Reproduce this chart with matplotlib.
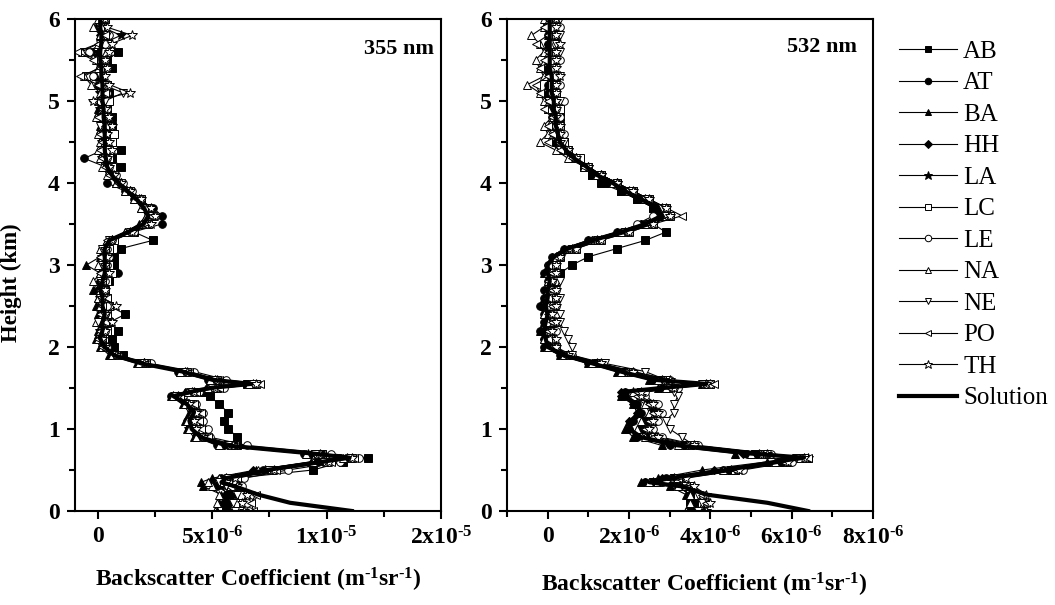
import numpy as np
import matplotlib
matplotlib.use("Agg")
from matplotlib import pyplot as plt
from matplotlib.ticker import MultipleLocator

plt.rcParams['font.family'] = ['Liberation Serif', 'DejaVu Serif']
plt.rcParams['mathtext.fontset'] = 'custom'
plt.rcParams['mathtext.rm'] = 'Liberation Serif:bold'
plt.rcParams['mathtext.bf'] = 'Liberation Serif:bold'
plt.rcParams['mathtext.default'] = 'bf'

# heights (km), shared by both wavelengths
h_km = [0.0, 0.1, 0.2, 0.3, 0.35, 0.4, 0.5, 0.6, 0.65, 0.7,
        0.8, 0.9, 1.0, 1.1, 1.2, 1.3, 1.4, 1.45, 1.5, 1.55,
        1.6, 1.7, 1.8, 1.9, 2.0, 2.1, 2.2, 2.3, 2.4, 2.5,
        2.6, 2.7, 2.8, 2.9, 3.0, 3.1, 3.2, 3.3, 3.4, 3.5,
        3.6, 3.7, 3.8, 3.9, 4.0, 4.1, 4.2, 4.3, 4.4, 4.5,
        4.6, 4.7, 4.8, 4.9, 5.0, 5.1, 5.2, 5.3, 5.4, 5.5,
        5.6, 5.7, 5.8, 5.9, 6.0]

# backscatter in units of 1e-6 m-1 sr-1
# ---------------- 355 nm ----------------
sol_355 = [11.1, 8.4, 7.0, 6.0, 5.4, 5.6, 7.4, 9.8, 11.0, 9.4,
           5.6, 4.5, 4.1, 4.0, 4.2, 3.9, 3.3, 4.0, 4.9, 6.7,
           5.0, 3.7, 1.9, 0.7, 0.3, 0.1, 0.2, 0.2, 0.3, 0.2,
           0.2, 0.1, 0.2, 0.3, 0.3, 0.3, 0.3, 0.5, 1.3, 2.0,
           2.2, 2.0, 1.7, 1.3, 0.9, 0.6, 0.4, 0.35, 0.3, 0.3,
           0.3, 0.3, 0.25, 0.25, 0.2, 0.2, 0.2, 0.15, 0.15, 0.1,
           0.1, 0.15, 0.15, 0.1, 0.1]
ab_355 = [5.6, 5.6, 5.7, 6.1, 5.6, 6.0, 9.4, 10.7, 11.8, 9.8,
          6.1, 6.1, 5.7, 5.5, 5.7, 5.3, 4.9, 4.6, 5.2, 6.5,
          4.9, 3.6, 1.8, 1.1, 0.7, 0.6, 0.9, 0.5, 1.2, 0.5,
          0.4, 0.3, 0.5, 0.6, 0.7, 0.7, 1.0, 2.4, 1.6, 2.1,
          2.3, 2.1, 1.8, 1.3, 0.9, 0.7, 1.0, 0.6, 1.0, 0.6,
          0.5, 0.6, 0.6, 0.4, 0.4, 0.5, 0.4, 0.2, 0.6, 0.4,
          0.9, 0.4, 0.2, 0.1, 0.3]
at_355 = [5.6, 5.5, 5.6, 5.7, 5.0, 5.4, 7.2, 9.6, 10.6, 9.0,
          5.2, 4.3, 4.0, 3.9, 4.1, 3.8, 3.2, 3.9, 4.8, 6.5,
          4.8, 3.5, 1.8, 0.6, 0.2, 0.0, 0.2, 0.1, 0.2, 0.1,
          0.1, 0.0, 0.2, 0.9, 0.4, 0.3, 0.2, 0.5, 1.5, 2.8,
          2.8, 2.4, 1.6, 1.2, 0.4, 0.5, 0.3, -0.6, 0.2, 0.3,
          0.1, 0.2, 0.0, 0.3, 0.1, 0.2, 0.0, -0.2, 0.1, 0.0,
          -0.3, 0.1, 0.2, 0.0, 0.1]
ba_355 = [5.2, 5.3, 5.4, 4.6, 4.5, 5.0, 6.9, 9.3, 10.8, 9.2,
          5.4, 4.2, 3.9, 3.8, 4.0, 3.7, 3.2, 3.8, 4.8, 6.6,
          4.9, 3.6, 1.7, 0.5, 0.1, -0.1, 0.0, 0.1, 0.0, -0.1,
          0.0, -0.2, 0.0, 0.1, -0.5, 0.1, 0.2, 0.4, 1.2, 1.8,
          2.1, 1.9, 1.6, 1.2, 0.8, 0.5, 0.3, 0.3, 0.1, 0.2,
          0.3, 0.1, 0.2, 0.0, 0.1, 0.2, 0.1, -0.1, 0.2, 0.1,
          0.0, 0.2, 0.1, 0.0, 0.2]
hh_355 = [5.7, 5.5, 5.8, 5.2, 5.0, 5.8, 6.8, 9.5, 10.9, 9.3,
          5.5, 4.4, 4.1, 4.0, 4.2, 3.9, 3.4, 4.0, 4.9, 6.7,
          5.0, 3.7, 1.9, 0.7, 0.3, 0.1, 0.2, 0.2, 0.3, 0.2,
          0.2, 0.1, 0.2, 0.3, 0.3, 0.3, 0.3, 0.5, 1.3, 2.0,
          2.2, 2.0, 1.7, 1.3, 0.9, 0.6, 0.4, 0.3, 0.3, 0.3,
          0.3, 0.3, 0.2, 0.2, 0.2, 0.2, 0.2, 0.1, 0.1, 0.1,
          0.1, 0.1, 0.1, 0.1, 0.1]
la_355 = [5.9, 5.8, 6.0, 5.4, 5.2, 5.6, 7.3, 9.7, 10.9, 9.2,
          5.5, 4.4, 4.0, 4.1, 4.1, 3.8, 3.3, 4.1, 5.0, 6.8,
          5.1, 3.8, 2.0, 0.8, 0.4, 0.2, 0.1, 0.3, 0.2, 0.3,
          0.1, 0.2, 0.3, 0.2, 0.4, 0.2, 0.4, 0.6, 1.4, 2.1,
          2.3, 2.1, 1.8, 1.4, 1.0, 0.7, 0.5, 0.2, 0.4, 0.2,
          0.4, 0.2, 0.3, 0.1, 0.3, 0.1, 0.3, 0.0, 0.2, 0.2,
          0.0, 0.2, 1.0, 0.2, 0.1]
lc_355 = [6.2, 6.0, 6.3, 5.8, 5.5, 5.9, 7.6, 10.0, 11.1, 9.6,
          5.8, 4.7, 4.4, 4.3, 4.4, 4.1, 3.5, 4.2, 5.1, 6.9,
          5.2, 3.9, 2.1, 0.8, 0.3, 0.2, 0.4, 0.3, 0.4, 0.5,
          0.3, 0.2, 0.4, 0.6, 0.5, 0.4, 0.5, 0.7, 1.5, 2.2,
          2.4, 2.2, 1.9, 1.4, 1.0, 0.7, 0.6, 0.5, 0.5, 0.6,
          0.7, 0.5, 0.4, 0.3, 0.5, 0.3, 0.4, -0.5, 0.3, 0.3,
          -0.6, 0.4, 0.3, 0.2, 0.3]
le_355 = [6.6, 6.5, 6.8, 6.3, 5.9, 6.4, 8.3, 10.6, 11.4, 10.2,
          6.5, 4.9, 4.8, 4.6, 4.6, 4.3, 3.7, 4.4, 5.5, 7.0,
          5.6, 4.2, 2.3, 0.9, 0.4, 0.2, 0.3, 0.4, 0.3, 0.4,
          0.3, 0.3, 0.3, 0.4, 0.4, 0.5, 0.4, 0.6, 1.6, 2.2,
          2.5, 2.2, 1.9, 1.5, 1.1, 0.8, 0.5, 0.4, 0.2, 0.4,
          0.2, 0.5, 0.3, 0.4, 0.1, 0.4, 0.2, -0.2, 0.4, 0.3,
          -0.4, 0.3, 0.5, 0.2, 0.3]
na_355 = [5.1, 5.2, 5.3, 5.0, 4.8, 5.3, 7.0, 9.4, 10.7, 9.1,
          5.3, 4.3, 4.0, 3.9, 4.1, 3.8, 3.3, 3.9, 4.8, 6.6,
          4.9, 3.6, 1.8, 0.6, 0.2, 0.0, 0.1, -0.1, 0.2, 0.1,
          0.0, 0.1, -0.2, 0.1, 0.0, 0.2, 0.1, 0.4, 1.2, 1.9,
          2.1, 1.9, 1.6, 1.2, 0.8, 0.4, 0.2, 0.1, 0.0, 0.1,
          0.0, 0.2, -0.1, 0.2, 0.0, 0.1, -0.3, -0.6, 0.0, -0.1,
          -0.7, 0.0, 0.1, -0.2, 0.0]
ne_355 = [6.0, 5.9, 6.1, 5.6, 5.3, 5.7, 7.5, 9.9, 11.0, 9.5,
          5.7, 4.6, 4.2, 4.1, 4.3, 4.0, 3.4, 4.1, 5.0, 6.8,
          5.1, 3.8, 2.0, 0.7, 0.3, 0.1, 0.2, 0.0, 0.4, 0.2,
          0.1, 0.2, 0.1, 0.3, 0.2, 0.3, 0.2, 0.5, 1.4, 2.1,
          2.3, 2.1, 1.7, 1.3, 0.9, 0.6, 0.4, 0.3, 0.2, 0.4,
          0.3, 0.1, 0.4, 0.2, 0.3, 1.1, 0.2, 0.1, 0.3, 0.0,
          0.2, 0.1, 0.4, 0.1, 0.2]
po_355 = [6.8, 6.7, 6.9, 6.0, 5.7, 6.1, 7.8, 10.2, 11.2, 9.8,
          6.0, 4.8, 4.5, 4.4, 4.5, 4.2, 3.6, 4.3, 5.3, 7.1,
          5.3, 4.0, 2.1, 0.8, 0.2, 0.0, 0.1, 0.3, 0.1, 0.2,
          0.4, 0.1, 0.2, 0.1, 0.3, 0.1, 0.3, 0.4, 1.3, 2.0,
          2.3, 2.0, 1.7, 1.3, 0.9, 0.5, 0.3, 0.2, 0.1, 0.2,
          0.1, 0.3, 0.0, 0.2, -0.2, 0.3, 0.0, -0.8, 0.1, -0.2,
          -0.9, 0.0, 0.3, 0.1, 0.2]
th_355 = [6.4, 6.3, 6.5, 6.1, 5.6, 6.0, 7.7, 10.1, 11.1, 9.7,
          5.9, 4.6, 4.3, 4.2, 4.3, 4.0, 3.5, 4.2, 5.1, 6.9,
          5.2, 3.9, 2.0, 0.8, 0.3, 0.2, 0.3, 0.6, 0.3, 0.8,
          0.2, 0.3, 0.2, 0.5, 0.3, 0.4, 0.3, 0.6, 1.5, 2.3,
          2.5, 2.3, 1.9, 1.4, 1.0, 0.7, 0.5, 0.4, 0.6, 0.5,
          0.4, 0.6, 0.5, 0.3, -0.2, 1.4, 0.5, 0.3, 0.4, 0.3,
          0.5, 0.6, 1.5, 0.4, 0.3]

# ---------------- 532 nm ----------------
sol_532 = [6.4, 5.4, 3.9, 3.3, 2.5, 3.0, 4.4, 5.6, 6.3, 5.0,
           3.2, 2.3, 2.0, 2.1, 2.3, 2.2, 1.9, 1.8, 2.8, 3.9,
           2.6, 1.8, 1.1, 0.4, 0.0, -0.05, -0.1, -0.05, 0.0, -0.05,
           0.0, 0.0, 0.05, 0.0, 0.0, 0.15, 0.5, 1.1, 1.8, 2.4,
           2.8, 2.7, 2.3, 1.9, 1.6, 1.2, 0.95, 0.65, 0.45, 0.3,
           0.25, 0.2, 0.2, 0.15, 0.15, 0.1, 0.1, 0.1, 0.05, 0.05,
           0.05, 0.05, 0.05, 0.05, 0.05]
ab_532 = [3.6, 3.5, 3.6, 3.4, 2.6, 3.1, 4.5, 5.7, 6.3, 5.1,
          3.4, 2.5, 2.3, 2.4, 2.6, 2.5, 2.2, 2.3, 3.0, 3.9,
          2.7, 1.9, 1.2, 0.5, 0.1, 0.1, 0.0, 0.1, 0.1, 0.0,
          0.1, 0.1, 0.1, 0.3, 0.6, 1.0, 1.7, 2.4, 2.9, 2.6,
          2.7, 2.6, 2.2, 1.8, 1.3, 1.1, 0.9, 0.7, 0.5, 0.4,
          0.3, 0.3, 0.3, 0.2, 0.2, 0.2, 0.1, 0.1, 0.1, 0.1,
          0.1, 0.1, 0.1, 0.1, 0.1]
at_532 = [3.5, 3.6, 3.5, 3.2, 2.4, 2.9, 4.3, 5.5, 6.2, 4.9,
          3.0, 2.2, 2.0, 2.1, 2.3, 2.2, 1.9, 1.9, 2.8, 3.8,
          2.6, 1.8, 1.0, 0.3, -0.1, -0.1, -0.2, -0.1, -0.1, -0.2,
          -0.1, -0.1, 0.0, -0.1, 0.0, 0.1, 0.4, 1.0, 1.7, 2.3,
          2.7, 2.6, 2.2, 1.8, 1.5, 1.1, 0.9, 0.6, 0.4, 0.2,
          0.2, 0.1, 0.1, 0.1, 0.1, 0.0, 0.0, 0.0, 0.0, 0.0,
          0.0, 0.0, 0.0, 0.0, 0.0]
ba_532 = [3.4, 3.5, 3.4, 3.0, 2.3, 2.7, 3.8, 5.4, 6.4, 4.6,
          2.8, 2.1, 1.9, 2.0, 2.2, 2.1, 1.8, 1.9, 2.7, 3.8,
          2.5, 1.7, 1.0, 0.3, -0.1, -0.1, -0.2, -0.1, -0.1, -0.1,
          -0.1, 0.0, 0.0, -0.1, 0.0, 0.1, 0.4, 1.0, 1.7, 2.3,
          2.7, 2.6, 2.2, 1.8, 1.5, 1.1, 0.9, 0.6, 0.4, 0.2,
          0.2, 0.1, 0.1, 0.0, 0.1, 0.0, 0.0, 0.0, 0.0, 0.0,
          0.0, 0.0, 0.0, 0.0, 0.0]
hh_532 = [3.5, 3.6, 3.5, 3.2, 2.4, 2.8, 4.1, 5.5, 6.3, 4.8,
          3.0, 2.2, 2.0, 2.0, 2.2, 2.1, 1.8, 1.8, 2.8, 3.9,
          2.6, 1.8, 1.1, 0.4, 0.0, -0.1, -0.1, 0.0, 0.0, -0.1,
          0.0, 0.0, 0.1, 0.0, 0.0, 0.2, 0.5, 1.1, 1.8, 2.4,
          2.8, 2.7, 2.3, 1.9, 1.6, 1.2, 0.9, 0.6, 0.4, 0.3,
          0.2, 0.2, 0.2, 0.1, 0.1, 0.1, 0.1, 0.1, 0.0, 0.0,
          0.1, 0.0, 0.1, 0.0, 0.1]
la_532 = [3.6, 3.7, 3.6, 3.3, 2.6, 3.1, 4.5, 5.8, 6.4, 5.2,
          3.3, 2.5, 2.4, 2.5, 2.6, 2.5, 2.2, 2.1, 3.0, 4.0,
          2.8, 1.9, 1.2, 0.5, 0.1, 0.0, 0.0, 0.1, 0.1, 0.0,
          0.1, 0.1, 0.1, 0.1, 0.1, 0.2, 0.6, 1.2, 1.9, 2.5,
          2.9, 2.8, 2.4, 2.0, 1.7, 1.3, 1.0, 0.7, 0.5, 0.3,
          0.3, 0.2, 0.2, 0.2, 0.2, 0.1, 0.1, 0.1, 0.1, 0.1,
          0.1, 0.1, 0.1, 0.1, 0.1]
lc_532 = [3.7, 3.8, 3.7, 3.4, 2.7, 3.2, 4.6, 5.9, 6.3, 5.3,
          3.5, 2.6, 2.5, 2.6, 2.7, 2.6, 2.3, 2.3, 3.1, 4.0,
          2.9, 2.0, 1.3, 0.5, 0.2, 0.1, 0.1, 0.2, 0.2, 0.1,
          0.2, 0.1, 0.2, 0.1, 0.2, 0.3, 0.7, 1.3, 2.0, 2.6,
          3.0, 2.9, 2.5, 2.1, 1.7, 1.3, 1.0, 0.8, 0.5, 0.4,
          0.3, 0.3, 0.2, 0.3, 0.2, 0.2, 0.1, 0.2, 0.1, 0.1,
          0.2, 0.1, 0.2, 0.1, 0.2]
le_532 = [3.8, 3.9, 3.8, 3.5, 2.8, 3.3, 4.8, 6.0, 6.2, 5.5,
          3.7, 2.8, 2.6, 2.7, 2.8, 2.7, 2.4, 2.4, 3.2, 4.0,
          3.0, 2.1, 1.3, 0.6, 0.2, 0.1, 0.2, 0.1, 0.2, 0.2,
          0.1, 0.2, 0.1, 0.2, 0.1, 0.3, 0.6, 1.2, 1.9, 2.2,
          2.6, 2.8, 2.5, 2.1, 1.7, 1.3, 1.0, 0.7, 0.5, 0.3,
          0.4, 0.2, 0.3, 0.2, 0.4, 0.1, 0.3, 0.2, 0.1, 0.3,
          0.1, 0.2, 0.1, 0.3, 0.2]
na_532 = [3.4, 3.5, 3.5, 3.2, 2.5, 3.0, 4.3, 5.6, 6.2, 5.0,
          3.2, 2.4, 2.2, 2.3, 2.5, 2.4, 2.1, 2.1, 2.9, 3.9,
          2.7, 1.8, 1.1, 0.4, 0.0, -0.1, 0.0, 0.0, -0.1, 0.0,
          0.0, 0.0, 0.0, 0.0, 0.1, 0.2, 0.5, 1.1, 1.8, 2.4,
          2.9, 2.8, 2.4, 2.0, 1.6, 1.2, 0.9, 0.5, 0.2, -0.2,
          0.0, -0.1, 0.1, 0.0, -0.1, -0.2, -0.5, -0.1, -0.2, -0.3,
          -0.1, -0.2, -0.4, -0.1, -0.1]
ne_532 = [3.7, 3.8, 3.7, 3.5, 2.8, 3.3, 4.6, 5.5, 6.1, 5.4,
          3.6, 3.3, 3.0, 2.9, 3.1, 3.1, 3.2, 3.1, 3.0, 3.8,
          2.9, 2.4, 1.4, 0.6, 0.6, 0.5, 0.4, 0.3, 0.3, 0.2,
          0.3, 0.2, 0.3, 0.2, 0.2, 0.3, 0.6, 1.2, 1.9, 2.5,
          2.9, 2.8, 2.4, 2.0, 1.7, 1.3, 1.0, 0.7, 0.5, 0.4,
          0.3, 0.3, 0.2, 0.2, 0.3, 0.2, 0.2, 0.3, 0.2, 0.2,
          0.3, 0.2, 0.3, 0.2, 0.3]
po_532 = [3.8, 3.9, 3.8, 3.4, 2.7, 3.2, 4.6, 5.8, 6.4, 5.2,
          3.4, 2.6, 2.4, 2.5, 2.6, 2.5, 2.2, 2.2, 3.0, 4.1,
          2.8, 1.9, 1.2, 0.4, 0.1, 0.0, 0.0, 0.1, 0.0, 0.1,
          0.0, 0.1, 0.0, 0.1, 0.0, 0.2, 0.5, 1.1, 1.9, 2.6,
          3.3, 2.9, 2.5, 2.1, 1.7, 1.3, 0.9, 0.6, 0.3, 0.0,
          0.1, 0.0, 0.1, -0.1, 0.0, -0.2, -0.3, 0.0, -0.2, -0.1,
          0.0, -0.3, 0.0, -0.1, 0.0]
th_532 = [3.9, 4.0, 3.9, 3.6, 2.9, 3.4, 4.7, 5.9, 6.3, 5.4,
          3.6, 2.7, 2.5, 2.6, 2.7, 2.6, 2.3, 2.3, 3.1, 3.9,
          3.0, 2.1, 1.3, 0.5, 0.2, 0.2, 0.1, 0.2, 0.1, 0.2,
          0.2, 0.2, 0.1, 0.2, 0.2, 0.3, 0.7, 1.3, 2.0, 2.6,
          3.0, 2.9, 2.5, 2.1, 1.7, 1.3, 1.0, 0.7, 0.5, 0.3,
          0.3, 0.3, 0.2, 0.2, 0.2, 0.2, 0.2, 0.3, 0.2, 0.2,
          0.2, 0.3, 0.2, 0.2, 0.2]

stations = ['AB', 'AT', 'BA', 'HH', 'LA', 'LC', 'LE', 'NA', 'NE', 'PO', 'TH']
data_355 = [ab_355, at_355, ba_355, hh_355, la_355, lc_355, le_355, na_355, ne_355, po_355, th_355]
data_532 = [ab_532, at_532, ba_532, hh_532, la_532, lc_532, le_532, na_532, ne_532, po_532, th_532]

# marker, filled?
styles = [('s', True), ('o', True), ('^', True), ('D', True), ('*', True),
          ('s', False), ('o', False), ('^', False), ('v', False), ('<', False), ('*', False)]

fig = plt.figure(figsize=(10.55, 6.05), dpi=100)
ax1 = fig.add_axes([0.0711, 0.1554, 0.347, 0.8132])
ax2 = fig.add_axes([0.4806, 0.1554, 0.347, 0.8132])


def draw(ax, data, sol):
    lines = []
    for name, vals, (m, filled) in zip(stations, data, styles):
        ms = 5.5
        if m == 'D':
            ms = 4.5
        if m == '*':
            ms = 7.5
        ln, = ax.plot(vals, h_km, color='black', lw=0.8, marker=m, ms=ms,
                      mfc='black' if filled else 'white', mec='black', mew=0.7,
                      label=name)
        lines.append(ln)
    sl, = ax.plot(sol, h_km, color='black', lw=3, label='Solution')
    lines.append(sl)
    return lines


handles = draw(ax1, data_355, sol_355)
draw(ax2, data_532, sol_532)

for ax in (ax1, ax2):
    ax.set_ylim(0, 6)
    ax.yaxis.set_major_locator(MultipleLocator(1))
    ax.yaxis.set_minor_locator(MultipleLocator(0.5))
    ax.tick_params(which='both', direction='out', top=False, right=False, width=1.5)
    ax.tick_params(which='major', length=6, labelsize=17, pad=5)
    ax.tick_params(which='minor', length=4.5)
    for s in ax.spines.values():
        s.set_linewidth(1.5)
    for lab in ax.get_yticklabels():
        lab.set_fontweight('bold')

hy = '\u2010'
ax1.set_xlim(-1, 15)
ax1.set_xticks([0, 5, 10, 15])
ax1.set_xticklabels(['0', '5x10$^{' + hy + '6}$', '1x10$^{' + hy + '5}$', '2x10$^{' + hy + '5}$'],
                    fontweight='bold')
ax1.xaxis.set_minor_locator(MultipleLocator(2.5))

ax2.set_xlim(-1, 8)
ax2.set_xticks([0, 2, 4, 6, 8])
ax2.set_xticklabels(['0'] + ['%dx10$^{' % v + hy + '6}$' for v in (2, 4, 6, 8)],
                    fontweight='bold')
ax2.xaxis.set_minor_locator(MultipleLocator(1))

xlab = 'Backscatter Coefficient (m$^{' + hy + '1}$sr$^{' + hy + '1}$)'
ax1.set_xlabel(xlab, fontsize=17, fontweight='bold')
ax1.xaxis.set_label_coords(0.5, -0.112)
ax2.set_xlabel(xlab, fontsize=17, fontweight='bold')
ax2.xaxis.set_label_coords(0.538, -0.122)
ax1.set_ylabel('Height (km)', fontsize=16.5, fontweight='bold')
ax1.yaxis.set_label_coords(-0.145, 0.465)

ax1.text(0.981, 0.94, '355 nm', transform=ax1.transAxes, ha='right', va='center',
         fontsize=16, fontweight='bold')
ax2.text(0.956, 0.943, '532 nm', transform=ax2.transAxes, ha='right', va='center',
         fontsize=16, fontweight='bold')

fig.legend(handles=handles, loc='upper left', bbox_to_anchor=(0.843, 0.95),
           frameon=False, fontsize=18, handlelength=2.3, handletextpad=0.25,
           labelspacing=0.36, numpoints=1, borderaxespad=0, markerscale=0.85)

fig.savefig('out.png', dpi=100)
